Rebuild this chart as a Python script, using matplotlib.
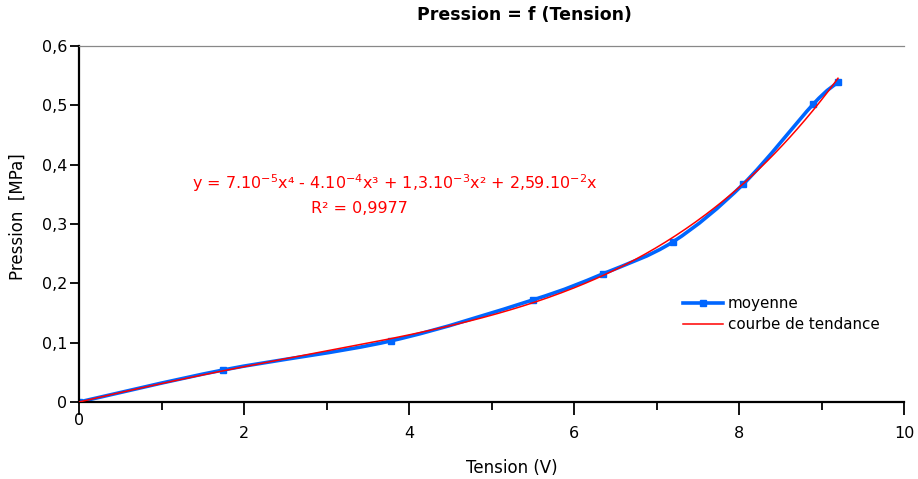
import numpy as np
import matplotlib
matplotlib.use("Agg")
import matplotlib.pyplot as plt
from matplotlib.ticker import MultipleLocator, FuncFormatter
from matplotlib.path import Path
from matplotlib.patches import PathPatch
from matplotlib.lines import Line2D

plt.rcParams['font.family'] = ['DejaVu Sans']

tension = [0.0, 1.75, 3.78, 5.50, 6.35, 7.20, 8.05, 8.90, 9.20]
pression = [0.0, 0.054, 0.103, 0.172, 0.216, 0.270, 0.367, 0.502, 0.539]
equation_label = 'y = 7.10$^{-5}$x⁴ - 4.10$^{-4}$x³ + 1,3.10$^{-3}$x² + 2,59.10$^{-2}$x'
r2_label = 'R² = 0,9977'

BLUE = '#0066ff'
RED = '#ff0000'

fig = plt.figure(figsize=(9.18, 4.79), dpi=100)
ax = fig.add_axes([79/918, 1-402/479, (904-79)/918, (402-46)/479])
ax.set_xlim(0, 10)
ax.set_ylim(0, 0.6)

# smoothed line through the measured points (Catmull-Rom -> cubic Bezier)
xs = np.array(tension); ys = np.array(pression)
pts = np.column_stack([xs, ys])
verts = [pts[0]]
codes = [Path.MOVETO]
n = len(pts)
for i in range(n - 1):
    p0 = pts[i - 1] if i > 0 else pts[i]
    p1 = pts[i]
    p2 = pts[i + 1]
    p3 = pts[i + 2] if i + 2 < n else pts[i + 1]
    c1 = p1 + (p2 - p0) / 6.0
    c2 = p2 - (p3 - p1) / 6.0
    verts += [c1, c2, p2]
    codes += [Path.CURVE4] * 3
ax.add_patch(PathPatch(Path(verts, codes), facecolor='none', edgecolor=BLUE,
                       lw=2.6, capstyle='round', joinstyle='round', zorder=2))
ax.plot(tension, pression, ls='none', marker='s', ms=4, color=BLUE, zorder=2)

# polynomial trendline (order 4, through origin), fitted on the data
A = np.column_stack([xs**4, xs**3, xs**2, xs])
coef, *_ = np.linalg.lstsq(A, ys, rcond=None)
xt = np.linspace(0, xs.max(), 300)
yt = np.column_stack([xt**4, xt**3, xt**2, xt]) @ coef
ax.plot(xt, yt, color=RED, lw=1.1, zorder=3)

ax.yaxis.set_major_locator(MultipleLocator(0.1))
ax.xaxis.set_major_locator(MultipleLocator(2))
ax.xaxis.set_minor_locator(MultipleLocator(1))
ax.yaxis.set_major_formatter(FuncFormatter(lambda v, p: ('%g' % round(v, 2)).replace('.', ',')))
ax.xaxis.set_major_formatter(FuncFormatter(lambda v, p: '' if round(v) == 0 else '%d' % round(v)))
ax.tick_params(axis='x', which='major', direction='out', length=9.5, width=1.3, pad=8, labelsize=11.5)
ax.tick_params(axis='x', which='minor', direction='out', length=6, width=1.3)
ax.tick_params(axis='y', direction='out', length=6.5, width=1.3, pad=2, labelsize=11.5)
ax.text(0, -0.032, '0', transform=ax.get_xaxis_transform(), ha='center', va='top', fontsize=11.5)

for s in ['left', 'bottom']:
    ax.spines[s].set_linewidth(1.6)
    ax.spines[s].set_color('black')
ax.spines['top'].set_color('#888888')
ax.spines['top'].set_linewidth(0.9)
ax.spines['right'].set_visible(False)

fig.text(524/918, 1-15/479, 'Pression = f (Tension)', ha='center', va='center',
         fontsize=12.5, fontweight='bold')
fig.text(512/918, 1-468/479, 'Tension (V)', ha='center', va='center', fontsize=12)
fig.text(18/918, 1-217/479, 'Pression  [MPa]', ha='center', va='center',
         rotation=90, fontsize=12)

fig.text(395/918, 1-183/479, equation_label, ha='center', va='center',
         color=RED, fontsize=11.5)
fig.text(359/918, 1-208/479, r2_label, ha='center', va='center',
         color=RED, fontsize=11.5)

handles = [Line2D([], [], color=BLUE, lw=2.6, marker='s', ms=5, markevery=[1]),
           Line2D([], [], color=RED, lw=1.1)]
ax.legend(handles, ['moyenne', 'courbe de tendance'], loc='upper left',
          bbox_to_anchor=(683/918, 1-296/479), bbox_transform=fig.transFigure,
          frameon=False, fontsize=10.9, handlelength=2.65, handletextpad=0.3,
          labelspacing=0.4, borderpad=0.0, borderaxespad=0.0)

fig.savefig('out.png', dpi=100)
